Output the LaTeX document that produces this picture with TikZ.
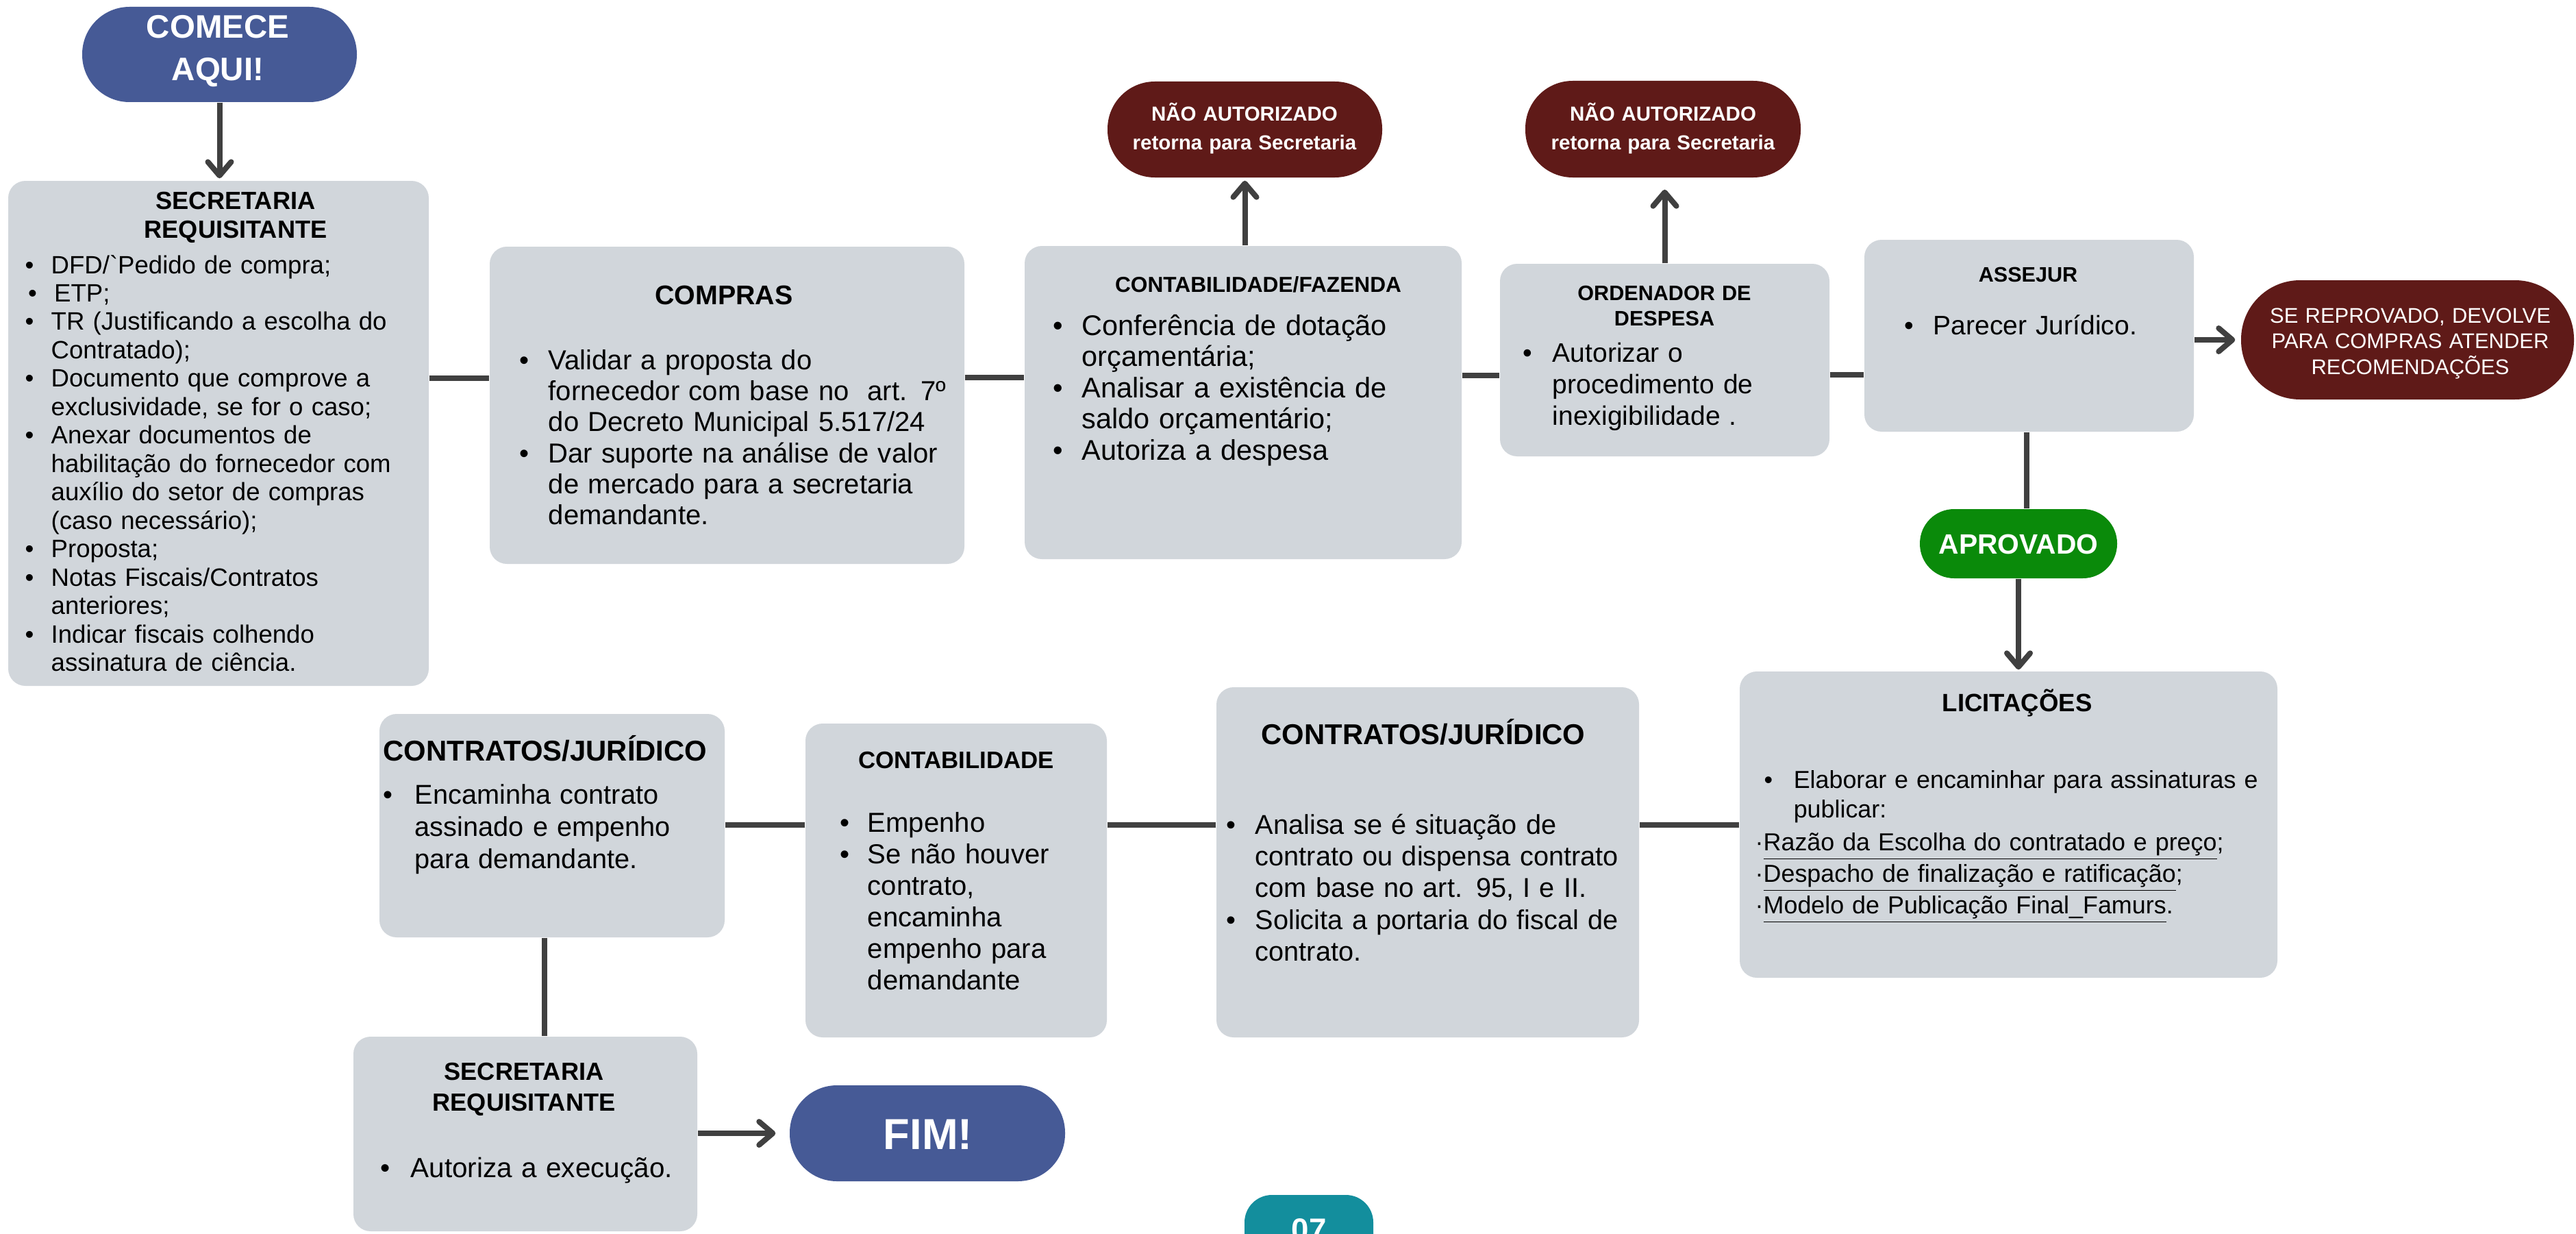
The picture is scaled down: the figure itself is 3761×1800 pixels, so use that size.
\documentclass[tikz,border=0pt]{standalone}
\usepackage{fontspec}
\setmainfont{Liberation Sans}
\usetikzlibrary{fit,arrows.meta}
\definecolor{boxgray}{HTML}{D1D6DB}
\definecolor{linegray}{HTML}{404040}
\definecolor{blueC}{HTML}{465A96}
\definecolor{redC}{HTML}{5F1A18}
\definecolor{greenC}{HTML}{0A8A0A}
\definecolor{tealC}{HTML}{138E9D}
\newcommand{\bitem}[2][0.4cm]{\hangindent=#1\hangafter=1\noindent\makebox[#1][l]{\textbullet}#2\par}
\newcommand{\fs}[2]{\fontsize{#1}{#2}\selectfont}
\begin{document}
\begin{tikzpicture}[x=0.01cm, y=-0.01cm,
  box/.style={fill=boxgray, rounded corners=0.25cm, inner sep=0pt},
  conn/.style={draw=linegray, line width=0.08cm},
  arr/.style={conn, -{Straight Barb[length=0.2cm, width=0.34cm, round]}},
  ttl/.style={align=center, inner sep=0pt, anchor=base},
  bod/.style={align=left, inner sep=0pt, anchor=base west}]
\path[use as bounding box] (0,0) rectangle (3761,1800);
\clip (0,0) rectangle (3761,1800);
\fill[white] (0,0) rectangle (3761,1800);

% boxes
\node[box, fit={(12,264) (626,1001)}] (A) {};
\node[box, fit={(715,360) (1408,823)}] (B) {};
\node[box, fit={(1496,359) (2134,816)}] (C) {};
\node[box, fit={(2190,385) (2671,666)}] (E) {};
\node[box, fit={(2722,350) (3203,630)}] (F) {};
\node[box, fit={(2540,980) (3325,1427)}] (J) {};
\node[box, fit={(1776,1003) (2393,1514)}] (K) {};
\node[box, fit={(1176,1056) (1616,1514)}] (L) {};
\node[box, fit={(554,1042) (1058,1368)}] (M) {};
\node[box, fit={(516,1513) (1018,1797)}] (N) {};

% pills
\node[fill=blueC, rounded corners=0.69cm, inner sep=0pt, fit={(120,10) (521,149)}] (start) {};
\node[fill=redC, rounded corners=0.69cm, inner sep=0pt, fit={(1617,119) (2018,259)}] (NA1) {};
\node[fill=redC, rounded corners=0.69cm, inner sep=0pt, fit={(2227,118) (2629,259)}] (NA2) {};
\node[fill=redC, rounded corners=0.86cm, inner sep=0pt, fit={(3272,409) (3758,583)}] (G) {};
\node[fill=greenC, rounded corners=0.5cm, inner sep=0pt, fit={(2803,743) (3091,844)}] (APR) {};
\node[fill=blueC, rounded corners=0.69cm, inner sep=0pt, fit={(1153,1584) (1555,1724)}] (FIM) {};
\node[fill=tealC, rounded corners=0.4cm, inner sep=0pt, fit={(1817,1744) (2005,1900)}] (P07) {};

% pill texts
\node[ttl, text=white, text width=3.5cm, font=\fs{13.5}{17.4}\bfseries] (startT) at (318,56) {COMECE\\AQUI!};
\node[ttl, text=white, text width=3.8cm, font=\fs{8.4}{11.9}\bfseries] (NA1T) at (1817,177) {NÃO AUTORIZADO\\retorna para Secretaria};
\node[ttl, text=white, text width=3.8cm, font=\fs{8.4}{11.9}\bfseries] (NA2T) at (2428,177) {NÃO AUTORIZADO\\retorna para Secretaria};
\node[ttl, text=white, text width=4.4cm, font=\fs{8.8}{10.7}] (GT) at (3519,471) {SE REPROVADO, DEVOLVE\\PARA COMPRAS ATENDER\\RECOMENDAÇÕES};
\node[ttl, text=white, text width=2.8cm, font=\fs{11.6}{14}\bfseries] (APRT) at (2947,808) {APROVADO};
\node[ttl, text=white, text width=3.8cm, font=\fs{18}{22}\bfseries] (FIMT) at (1355,1677) {FIM!};
\node[ttl, text=white, text width=1.8cm, font=\fs{13}{16}\bfseries] (P07T) at (1911,1810) {07};

% A
\node[ttl, text width=5.5cm, font=\fs{10.3}{12.2}\bfseries] (At) at (344,305) {SECRETARIA\\REQUISITANTE};
\node[bod, text width=5.85cm, font=\fs{10.4}{11.8}] (Ab) at (36,399) {%
\bitem[0.38cm]{DFD/\textasciigrave Pedido de compra;}%
\hangindent=0.38cm\hangafter=1\noindent\hspace*{0.045cm}\makebox[0.38cm][l]{\textbullet}ETP;\par
\bitem[0.38cm]{TR (Justificando a escolha do\newline Contratado);}%
\bitem[0.38cm]{Documento que comprove a\newline exclusividade, se for o caso;}%
\bitem[0.38cm]{Anexar documentos de\newline habilitação do fornecedor com\newline auxílio do setor de compras\newline (caso necessário);}%
\bitem[0.38cm]{Proposta;}%
\bitem[0.38cm]{Notas Fiscais/Contratos\newline anteriores;}%
\bitem[0.38cm]{Indicar fiscais colhendo\newline assinatura de ciência.}};

% B
\node[ttl, text width=5cm, font=\fs{11.2}{13}\bfseries] (Bt) at (1057,444) {COMPRAS};
\node[bod, text width=6.4cm, font=\fs{11.4}{12.9}] (Bb) at (758,539) {%
\bitem[0.42cm]{Validar a proposta do\newline fornecedor com base no~ art. 7º\newline do Decreto Municipal 5.517/24}%
\bitem[0.42cm]{Dar suporte na análise de valor\newline de mercado para a secretaria\newline demandante.}};

% C
\node[ttl, text width=6cm, font=\fs{9}{11}\bfseries] (Ct) at (1837,426) {CONTABILIDADE/FAZENDA};
\node[bod, text width=5.8cm, font=\fs{11.8}{12.95}] (Cb) at (1537,489) {%
\bitem[0.42cm]{Conferência de dotação\newline orçamentária;}%
\bitem[0.42cm]{Analisar a existência de\newline saldo orçamentário;}%
\bitem[0.42cm]{Autoriza a despesa}};

% E
\node[ttl, text width=4.4cm, font=\fs{8.7}{10.8}\bfseries] (Et) at (2430,438) {ORDENADOR DE\\DESPESA};
\node[bod, text width=4.3cm, font=\fs{11.1}{13.1}] (Eb) at (2223,528) {%
\bitem[0.43cm]{Autorizar o\newline procedimento de\newline inexigibilidade .}};

% F
\node[ttl, text width=4.4cm, font=\fs{8.7}{10.8}\bfseries] (Ft) at (2961,411) {ASSEJUR};
\node[bod, text width=3.8cm, font=\fs{11.1}{13.1}] (Fb) at (2780,488) {%
\bitem[0.42cm]{Parecer Jurídico.}};

% J
\node[ttl, text width=7cm, font=\fs{10.4}{12.5}\bfseries] (Jt) at (2945,1038) {LICITAÇÕES};
\node[bod, text width=7.45cm, font=\fs{10.2}{12.4}] (Jb) at (2575,1150) {%
\bitem[0.43cm]{Elaborar e encaminhar para assinaturas e\newline publicar:}};
\node[bod, text width=7.4cm, font=\fs{10.2}{13.1}] (Jc) at (2562,1241) {%
·\underline{Razão da Escolha do contratado e preço};\\
·\underline{Despacho de finalização e ratificação};\\
·\underline{Modelo de Publicação Final\_Famurs}.};

% K
\node[ttl, text width=5.8cm, font=\fs{11.9}{14}\bfseries] (Kt) at (2078,1086) {CONTRATOS/JURÍDICO};
\node[bod, text width=5.9cm, font=\fs{11.3}{13.2}] (Kb) at (1790,1217) {%
\bitem[0.42cm]{Analisa se é situação de\newline contrato ou dispensa contrato\newline com base no art. 95, I e II.}%
\bitem[0.42cm]{Solicita a portaria do fiscal de\newline contrato.}};

% L
\node[ttl, text width=4.2cm, font=\fs{9.9}{12}\bfseries] (Lt) at (1396,1121) {CONTABILIDADE};
\node[bod, text width=3.7cm, font=\fs{11.4}{13.1}] (Lb) at (1226,1214) {%
\bitem[0.4cm]{Empenho}%
\bitem[0.4cm]{Se não houver\newline contrato,\newline encaminha\newline empenho para\newline demandante}};

% M
\node[ttl, text width=5cm, font=\fs{11.9}{14}\bfseries] (Mt) at (796,1110) {CONTRATOS/JURÍDICO};
\node[bod, text width=4.8cm, font=\fs{11.3}{13.5}] (Mb) at (559,1173) {%
\bitem[0.46cm]{Encaminha contrato\newline assinado e empenho\newline para demandante.}};

% N
\node[ttl, text width=4.8cm, font=\fs{10.3}{12.8}\bfseries] (Nt) at (765,1576) {SECRETARIA\\REQUISITANTE};
\node[bod, text width=4.6cm, font=\fs{11.5}{13.5}] (Nb) at (555,1718) {%
\bitem[0.44cm]{Autoriza a execução.}};

% helper coordinates for connector heights
\coordinate (y1) at (0,552);
\coordinate (y2) at (0,551);
\coordinate (y3) at (0,548);
\coordinate (y4) at (0,547);
\coordinate (y5) at (0,1204);

% connectors
\draw[arr, shorten >=0.03cm] (start.south) -- (start.south |- A.north);
\draw[conn] (A.east |- y1) -- (B.west |- y1);
\draw[conn] (B.east |- y2) -- (C.west |- y2);
\draw[conn] (C.east |- y3) -- (E.west |- y3);
\draw[conn] (E.east |- y4) -- (F.west |- y4);
\draw[arr, shorten >=0.04cm] (NA1.south |- C.north) -- (NA1.south);
\draw[arr, shorten >=0.17cm] (E.north) -- (E.north |- NA2.south);
\draw[arr, shorten >=0.08cm] (F.east |- G.west) -- (G.west);
\draw[conn] ([xshift=-0.04cm]F.south) -- ([xshift=-0.04cm]F.south |- APR.north);
\draw[arr, shorten >=0.02cm] (APR.south) -- (APR.south |- J.north);
\draw[conn] (J.west |- y5) -- (K.east |- y5);
\draw[conn] (K.west |- y5) -- (L.east |- y5);
\draw[conn] (L.west |- y5) -- (M.east |- y5);
\draw[conn] ([xshift=-0.11cm]M.south) -- ([xshift=-0.11cm]M.south |- N.north);
\draw[arr, shorten >=0.2cm] (N.east |- FIM.west) -- (FIM.west);
\end{tikzpicture}
\end{document}
